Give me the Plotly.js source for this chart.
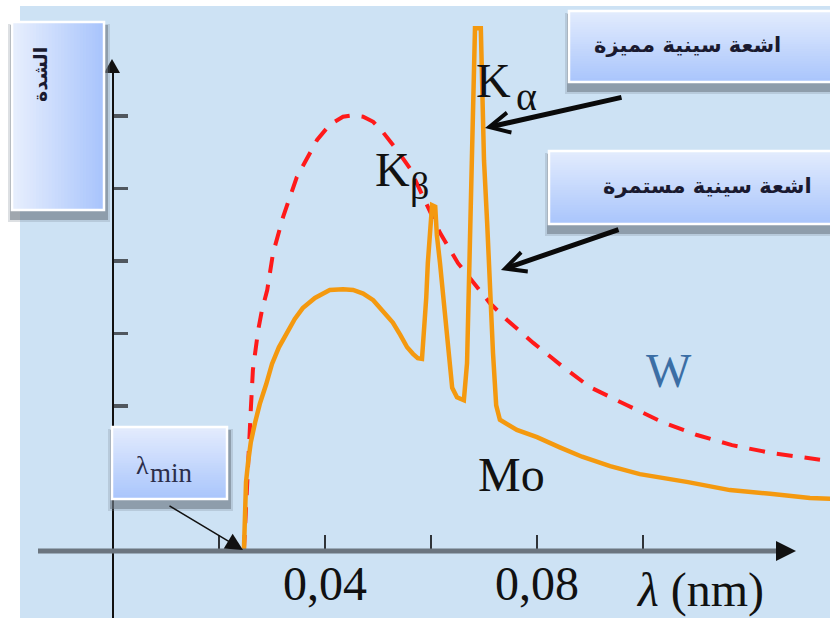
<!DOCTYPE html>
<html>
<head>
<meta charset="utf-8">
<script src="https://cdn.plot.ly/plotly-3.0.1.min.js"></script>
<style>
html,body{margin:0;padding:0;background:#fff;}
#chart{width:830px;height:618px;}
</style>
</head>
<body>
<div id="chart"></div>
<script>
// ---------------- DATA ----------------
// wavelength (nm) and relative intensity (arbitrary units, 1 unit = one y tick)
const moWavelength = [0.0247,0.0249,0.0251,0.0255,0.0260,0.0268,0.0277,0.0289,0.0300,0.0313,0.0328,0.0343,0.0358,0.0381,0.0409,0.0434,0.0453,0.0472,0.0491,0.0509,0.0528,0.0542,0.0555,0.0566,0.0575,0.0583,0.0587,0.0591,0.0594,0.0598,0.0602,0.0608,0.0611,0.0617,0.0623,0.0628,0.0634,0.0640,0.0649,0.0662,0.0668,0.0670,0.0672,0.0676,0.0679,0.0683,0.0694,0.0698,0.0700,0.0706,0.0711,0.0717,0.0723,0.0730,0.0762,0.0800,0.0843,0.0885,0.0938,0.0994,0.1085,0.1164,0.1240,0.1315,0.1353];
const moIntensity  = [0,0.63,0.95,1.23,1.50,1.77,2.03,2.30,2.58,2.81,3.02,3.20,3.35,3.49,3.60,3.61,3.60,3.55,3.46,3.32,3.15,2.98,2.81,2.72,2.66,2.65,3.05,3.49,3.97,4.33,4.77,4.75,4.36,3.97,3.49,3.05,2.59,2.25,2.12,2.08,2.59,3.15,4.11,5.12,6.12,7.21,7.21,6.12,5.39,4.52,3.56,2.73,2.01,1.81,1.67,1.57,1.43,1.30,1.17,1.06,0.95,0.84,0.79,0.73,0.72];

const wWavelength = [0.0247,0.0251,0.0257,0.0260,0.0264,0.0274,0.0281,0.0291,0.0302,0.0321,0.0347,0.0366,0.0385,0.0409,0.0434,0.0453,0.0472,0.0491,0.0509,0.0536,0.0560,0.0579,0.0598,0.0617,0.0651,0.0683,0.0711,0.0743,0.0793,0.0849,0.0900,0.0970,0.1036,0.1102,0.1168,0.1243,0.1311,0.1334];
const wIntensity  = [0,0.70,1.49,1.95,2.50,3.05,3.32,3.60,4.11,4.61,5.16,5.43,5.67,5.88,5.99,6.01,5.99,5.92,5.78,5.53,5.28,4.98,4.70,4.39,3.97,3.67,3.42,3.19,2.87,2.54,2.26,2.01,1.78,1.60,1.46,1.35,1.28,1.26];

const xTickVals = [0.02,0.04,0.06,0.08,0.10];
const xTickText = ['','0,04','','0,08',''];
const yTickVals = [1,2,3,4,5,6];

const labelMo = 'Mo';
const labelW = 'W';
const labelKalpha = ['K','α'];
const labelKbeta = ['K','β'];
const xAxisTitle = '<i>λ</i> (nm)';
const yAxisTitle = 'الشدة';
const lambdaMin = ['λ','min'];
const textCharacteristic = 'اشعة سينية مميزة';
const textContinuous = 'اشعة سينية مستمرة';

// ---------------- GEOMETRY ----------------
const W = 830, H = 618;
const X0 = -113/5300, X1 = 717/5300;
const Y0 = -67/72.5, Y1 = 551/72.5;
const px = v => v / W;
const py = v => 1 - v / H;

function hex2rgb(h){h=h.replace('#','');return [0,2,4].map(i=>parseInt(h.substr(i,2),16));}
function mix(a,b,t){const A=hex2rgb(a),B=hex2rgb(b);return 'rgb('+A.map((v,i)=>Math.round(v+(B[i]-v)*t)).join(',')+')';}

const shapes = [];
function rectPx(x0,y0,x1,y1,fill,extra){
  shapes.push(Object.assign({type:'rect',xref:'paper',yref:'paper',x0:px(x0),x1:px(x1),y0:py(y1),y1:py(y0),fillcolor:fill,line:{width:0},layer:'above'},extra||{}));
}
function gradBox(x0,y0,x1,y1,c0,c1,horizontal){
  rectPx(x0-3,y0+3,x1+5,y1+11,'rgba(120,130,142,0.25)');
  rectPx(x0-1,y0+4,x1+3,y1+9,'rgba(110,120,132,0.55)');
  const n = 30;
  for(let i=0;i<n;i++){
    const t=i/(n-1);
    if(horizontal){
      const a=x0+(x1-x0)*i/n, b=x0+(x1-x0)*(i+1)/n+1;
      rectPx(a,y0,Math.min(b,x1),y1,mix(c0,c1,t));
    } else {
      const a=y0+(y1-y0)*i/n, b=y0+(y1-y0)*(i+1)/n+1;
      rectPx(x0,a,x1,Math.min(b,y1),mix(c0,c1,t));
    }
  }
  shapes.push({type:'rect',xref:'paper',yref:'paper',x0:px(x0+1),x1:px(x1-1),y0:py(y1-1),y1:py(y0+1),line:{color:'#ffffff',width:2.5},fillcolor:'rgba(0,0,0,0)',layer:'above'});
}

// plot background
shapes.push({type:'rect',xref:'paper',yref:'paper',x0:px(20),x1:1,y0:0,y1:py(6),fillcolor:'#cde2f4',line:{width:0},layer:'below'});
// y axis line
shapes.push({type:'line',xref:'x',yref:'paper',x0:0,x1:0,y0:0,y1:py(68),line:{color:'#111111',width:2},layer:'above'});
shapes.push({type:'path',xref:'paper',yref:'paper',path:`M ${px(112)} ${py(59)} L ${px(104)} ${py(73)} L ${px(120)} ${py(73)} Z`,fillcolor:'#111111',line:{width:0},layer:'above'});
// x axis line
shapes.push({type:'line',xref:'paper',yref:'y',x0:px(38),x1:px(780),y0:0,y1:0,line:{color:'#6b757f',width:5},layer:'above'});
shapes.push({type:'path',xref:'paper',yref:'paper',path:`M ${px(796)} ${py(551)} L ${px(776)} ${py(541)} L ${px(776)} ${py(561)} Z`,fillcolor:'#111111',line:{width:0},layer:'above'});

// boxes
gradBox(111,426,228,500,'#e4ecfd','#a9c5fc',false);
gradBox(11,21,105,211,'#e8effd','#a8c4fc',true);
gradBox(568,10,834,83,'#e3ecfd','#a9c5fc',false);
gradBox(548,150,834,225,'#e3ecfd','#a9c5fc',false);

// ---------------- ANNOTATIONS ----------------
const serif = 'Liberation Serif';
const arabicFont = {family:'DejaVu Sans',size:21,color:'#1a1a30',weight:'bold'};
function txt(text,x,y,size,color,extra){
  return Object.assign({text:text,xref:'paper',yref:'paper',x:px(x),y:py(y),xanchor:'center',yanchor:'middle',showarrow:false,font:{family:serif,size:size,color:color||'#111111'}},extra||{});
}
function arrow(tipX,tipY,tailX,tailY,opts){
  return Object.assign({text:'',xref:'paper',yref:'paper',x:px(tipX),y:py(tipY),axref:'pixel',ayref:'pixel',ax:tailX-tipX,ay:tailY-tipY,showarrow:true,standoff:0},opts);
}
const annotations = [
  txt(labelKalpha[0],493,80,48),
  txt(labelKalpha[1],526,97,40),
  txt(labelKbeta[0],392,170,48),
  txt(labelKbeta[1],420,186,38),
  txt(labelMo,511,474,48),
  txt(labelW,669,370,48,'#3b6ea5'),
  txt(xAxisTitle,700,590,48),
  txt(lambdaMin[0],142,465,26,'#2b2d4a'),
  txt(lambdaMin[1],171,473,27,'#2b2d4a'),
  txt(textCharacteristic,687,45,21,null,{font:arabicFont}),
  txt(textContinuous,707,186,21,null,{font:arabicFont}),
  txt(yAxisTitle,40,75,19,null,{textangle:-90,font:{family:'DejaVu Sans',size:19,color:'#1a1a30',weight:'bold'}}),
  arrow(485,128,623,97,{arrowhead:5,arrowwidth:5,arrowsize:0.8,arrowcolor:'#0a0a0a'}),
  arrow(501,270,620,229,{arrowhead:5,arrowwidth:5,arrowsize:0.8,arrowcolor:'#0a0a0a'}),
  arrow(243,550,168,505,{arrowhead:2,arrowwidth:1.5,arrowsize:2.3,arrowcolor:'#111111'})
];

// ---------------- TRACES ----------------
const traces = [
  {x:wWavelength,y:wIntensity,type:'scatter',mode:'lines',line:{color:'#ff1a1a',width:4,dash:'16px,12px'},hoverinfo:'skip'},
  {x:moWavelength,y:moIntensity,type:'scatter',mode:'lines',line:{color:'#f4990f',width:4.5},hoverinfo:'skip'}
];

const layout = {
  width:W,height:H,
  margin:{l:0,r:0,t:0,b:0},
  paper_bgcolor:'#ffffff',plot_bgcolor:'rgba(0,0,0,0)',
  showlegend:false,
  xaxis:{range:[X0,X1],anchor:'free',position:(H-551)/H,showgrid:false,zeroline:false,showline:false,
    ticks:'inside',ticklen:16,tickwidth:2.5,tickcolor:'#2f3338',tickvals:xTickVals,ticktext:xTickText,
    tickfont:{family:serif,size:48,color:'#111111'},fixedrange:true},
  yaxis:{range:[Y0,Y1],anchor:'free',position:112/W,showgrid:false,zeroline:false,showline:false,
    ticks:'inside',ticklen:15,tickwidth:3.5,tickcolor:'#50575e',tickvals:yTickVals,showticklabels:false,fixedrange:true},
  shapes:shapes,
  annotations:annotations
};
Plotly.newPlot('chart',traces,layout,{displayModeBar:false,staticPlot:true});
</script>
</body>
</html>
